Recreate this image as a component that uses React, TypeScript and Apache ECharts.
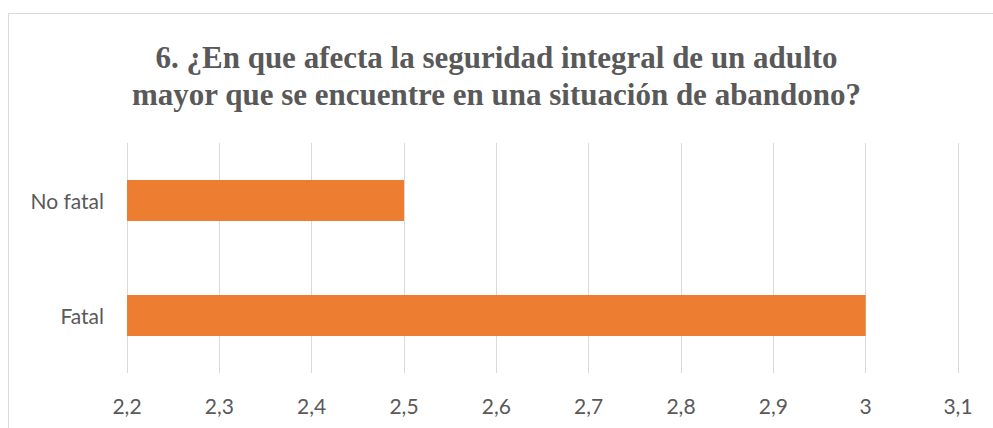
import React, { useEffect, useRef } from "react";
import * as echarts from "echarts";

const titleLines = [
  "6. ¿En que afecta la seguridad integral de un adulto",
  "mayor que se encuentre en una situación de abandono?",
];
const categories = ["Fatal", "No fatal"];
const values = [3, 2.5];
const axisMin = 2.2;
const axisMax = 3.1;
const axisStep = 0.1;

export default function App() {
  const ref = useRef<HTMLDivElement>(null);
  useEffect(() => {
    if (!ref.current) return;
    const chart = echarts.init(ref.current, null, { renderer: "svg" });
    chart.setOption({
      animation: false,
      backgroundColor: "#ffffff",
      title: {
        text: titleLines.join("\n"),
        left: "center",
        top: 34,
        textStyle: {
          fontFamily: "Liberation Serif",
          fontWeight: "bold",
          fontSize: 31,
          lineHeight: 37,
          color: "#595959",
        },
      },
      graphic: [
        {
          type: "rect",
          shape: { x: 8.5, y: 13.5, width: 1100, height: 600 },
          style: { fill: "none", stroke: "#d9d9d9", lineWidth: 1 },
          silent: true,
          z: -10,
        },
      ],
      grid: { left: 127, right: 35, top: 143, bottom: 55 },
      xAxis: {
        type: "value",
        min: axisMin,
        max: axisMax,
        interval: axisStep,
        axisLine: { show: false },
        axisTick: { show: false },
        splitLine: { show: true, lineStyle: { color: "#d9d9d9", width: 1 } },
        axisLabel: {
          margin: 22,
          fontFamily: "Lato",
          fontSize: 21,
          color: "#595959",
          formatter: (v: number) => String(Number(v.toFixed(1))).replace(".", ","),
        },
      },
      yAxis: {
        type: "category",
        data: categories,
        axisLine: { show: false },
        axisTick: { show: false },
        axisLabel: { margin: 23, fontFamily: "Lato", fontSize: 21, color: "#595959" },
      },
      series: [
        {
          type: "bar",
          data: values,
          barWidth: 41,
          itemStyle: { color: "#ed7d31" },
        },
      ],
    });
    return () => chart.dispose();
  }, []);
  return (
    <div
      ref={ref}
      style={{ position: "fixed", left: 0, top: 0, width: 993, height: 428 }}
    />
  );
}
